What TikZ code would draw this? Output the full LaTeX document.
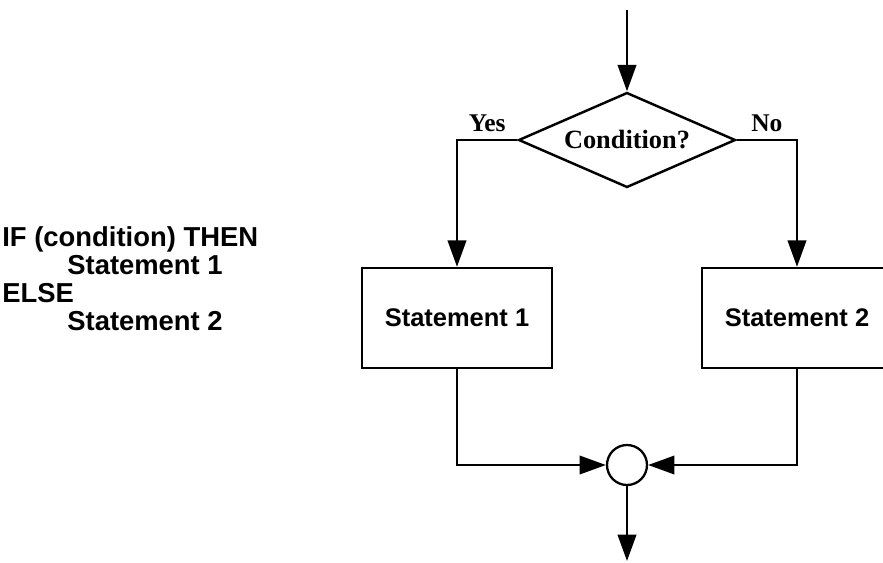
\documentclass[tikz,border=0pt]{standalone}
\usepackage{fontspec}
\setmainfont{Liberation Serif}
\setsansfont{Liberation Sans}
\usetikzlibrary{shapes.geometric,arrows.meta}
\begin{document}
\begin{tikzpicture}[x=0.02cm,y=-0.02cm,
	fleche/.style={-{Triangle[length=15pt,width=10.5pt]},line width=1.4pt},
	bloc/.style={draw,line width=1.4pt,minimum width=3.8cm,minimum height=2cm,font=\sffamily\bfseries\fontsize{14.5}{17}\selectfont},
	test/.style={draw,diamond,aspect=2.28,minimum width=4.34cm,minimum height=1.9cm,inner sep=0pt,line width=1.4pt,font=\bfseries\fontsize{15}{18}\selectfont},
	rep/.style={font=\bfseries\fontsize{14.5}{17}\selectfont,inner sep=4pt},
	jonction/.style={draw,circle,minimum size=0.8cm,inner sep=0pt,line width=1.3pt}]
		\clip (0,0) rectangle (883,562);
		% Pseudo-code
		\node[anchor=west,align=left,inner xsep=0pt,font=\sffamily\bfseries\fontsize{15.6}{16}\selectfont] (code) at (2,279)
			{IF (condition) THEN\\\hspace*{37pt}Statement 1\\ELSE\\\hspace*{37pt}Statement 2};
		% Organigramme
		\coordinate (debut) at (627,10);
		\node[test] (cond) at (627,140) {Condition?};
		\node[bloc] (st1) at (457,318) {Statement 1};
		\node[bloc] (st2) at (797,318) {Statement 2};
		\node[jonction] (join) at (627,465) {};
		\coordinate (fin) at (627,561);
		% Flèches
		\draw[fleche] (debut) -- (cond);
		\draw[fleche] (cond.west) -| node[rep,pos=0.25,above] (oui) {Yes} (st1);
		\draw[fleche] (cond.east) -| node[rep,pos=0.25,above] (non) {No} (st2);
		\draw[fleche] (st1) |- (join);
		\draw[fleche] (st2) |- (join);
		\draw[fleche] (join) -- (fin);
\end{tikzpicture}
\end{document}
